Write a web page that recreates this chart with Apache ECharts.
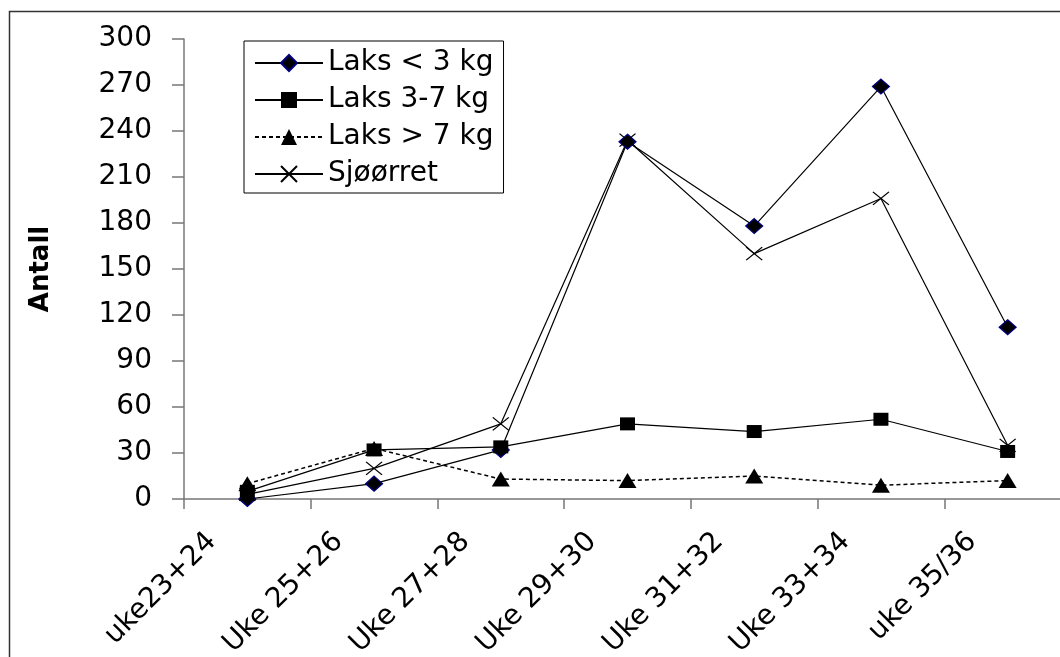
<!DOCTYPE html>
<html>
<head>
<meta charset="utf-8">
<script src="https://cdn.jsdelivr.net/npm/echarts@6/dist/echarts.min.js"></script>
<style>
html,body{margin:0;padding:0;background:#fff;}
#wrap{position:relative;width:1060px;height:657px;overflow:hidden;}
#chart{position:absolute;left:0;top:0;width:1072px;height:657px;}
</style>
</head>
<body>
<div id="wrap"><div id="chart"></div></div>
<script>
var categories = ['uke23+24', 'Uke 25+26', 'Uke 27+28', 'Uke 29+30', 'Uke 31+32', 'Uke 33+34', 'uke 35/36'];
var laksUnder3 = [0, 10, 32, 233, 178, 269, 112];
var laks3to7 = [5, 32, 34, 49, 44, 52, 31];
var laksOver7 = [10, 33, 13, 12, 15, 9, 12];
var sjoorret = [3, 20, 49, 234, 160, 196, 35];
var seriesNames = ['Laks < 3 kg', 'Laks 3-7 kg', 'Laks > 7 kg', 'Sjøørret'];
var yTicks = { min: 0, max: 300, interval: 30 };

var FONT = 'DejaVu Sans';
var chart = echarts.init(document.getElementById('chart'), null, { renderer: 'canvas' });

function lineSeries(name, data, symbol, size, extra) {
  var s = {
    name: name,
    type: 'line',
    data: data,
    symbol: symbol,
    symbolSize: size,
    showAllSymbol: true,
    lineStyle: { color: '#000', width: 1.2, type: 'solid' },
    itemStyle: { color: '#000', borderColor: '#000', borderWidth: 0 },
    emphasis: { disabled: true },
    z: 2
  };
  for (var k in extra) s[k] = extra[k];
  return s;
}

var option = {
  animation: false,
  backgroundColor: '#fff',
  graphic: [{
    type: 'rect',
    shape: { x: 9.5, y: 11.5, width: 1200, height: 800 },
    style: { fill: 'none', stroke: '#333', lineWidth: 1.5 },
    silent: true,
    z: -1
  }],
  grid: { left: 184, top: 39, right: 1, bottom: 158, containLabel: false, outerBoundsMode: 'none' },
  legend: {
    orient: 'vertical',
    left: 244,
    top: 41,
    padding: [8, 10, 5, 10],
    itemWidth: 68,
    itemHeight: 20,
    itemGap: 9,
    borderColor: '#000',
    borderWidth: 1,
    backgroundColor: '#fff',
    textStyle: { fontFamily: FONT, fontSize: 28, color: '#000', lineHeight: 28 },
    data: seriesNames
  },
  xAxis: {
    type: 'category',
    data: categories,
    boundaryGap: true,
    axisLine: { lineStyle: { color: '#777', width: 1.5 } },
    axisTick: { show: true, length: 10, lineStyle: { color: '#777', width: 1.5 } },
    axisLabel: {
      rotate: 45,
      interval: 0,
      margin: 3,
      padding: [0, 50, 0, 0],
      fontFamily: FONT,
      fontSize: 28,
      color: '#000'
    },
    splitLine: { show: false }
  },
  yAxis: {
    type: 'value',
    min: yTicks.min,
    max: yTicks.max,
    interval: yTicks.interval,
    name: 'Antall',
    nameLocation: 'middle',
    nameRotate: 90,
    nameGap: 130,
    nameTextStyle: { fontFamily: FONT, fontSize: 26, fontWeight: 'bold', color: '#000' },
    axisLine: { show: true, lineStyle: { color: '#777', width: 1.5 } },
    axisTick: { show: true, length: 12, lineStyle: { color: '#777', width: 1.5 } },
    axisLabel: { margin: 32, fontFamily: FONT, fontSize: 28, color: '#000' },
    splitLine: { show: false }
  },
  series: [
    lineSeries(seriesNames[0], laksUnder3, 'diamond', [17, 15], {
      itemStyle: { color: '#000', borderColor: '#000080', borderWidth: 1.2 }
    }),
    lineSeries(seriesNames[1], laks3to7, 'rect', [15, 13], {}),
    lineSeries(seriesNames[2], laksOver7, 'triangle', [18, 15], {
      lineStyle: { color: '#000', width: 1.5, type: [4, 3] }
    }),
    lineSeries(seriesNames[3], sjoorret, 'path://M0,0L10,10M10,0L0,10', [16, 13], {
      itemStyle: { color: 'rgba(0,0,0,0)', borderColor: '#000', borderWidth: 1.2 }
    })
  ]
};
chart.setOption(option);
</script>
</body>
</html>
